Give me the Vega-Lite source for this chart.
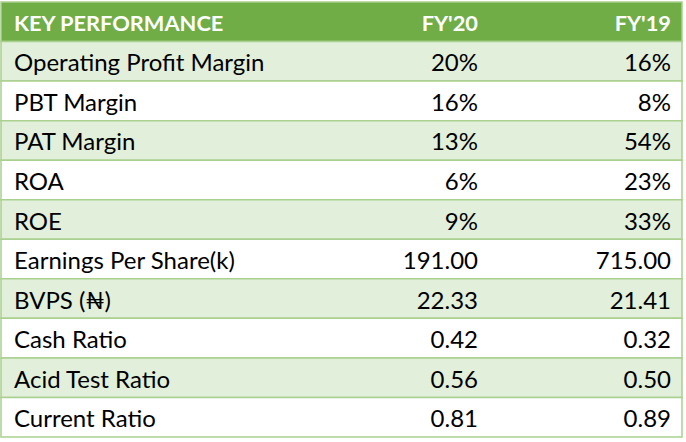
{
  "$schema": "https://vega.github.io/schema/vega-lite/v6.json",
  "width": 681,
  "height": 435,
  "autosize": "none",
  "padding": {"left": 1, "top": 2, "right": 4, "bottom": 5},
  "background": "white",
  "config": {"view": {"stroke": null}},
  "datasets": {
    "rows": [
      {"r": 0, "kind": "header"},
      {"r": 1, "kind": "shade"},
      {"r": 2, "kind": "plain"},
      {"r": 3, "kind": "shade"},
      {"r": 4, "kind": "plain"},
      {"r": 5, "kind": "shade"},
      {"r": 6, "kind": "plain"},
      {"r": 7, "kind": "shade"},
      {"r": 8, "kind": "plain"},
      {"r": 9, "kind": "shade"},
      {"r": 10, "kind": "plain"}
    ],
    "cells": [
      {"r": 0, "col": "label", "text": "KEY PERFORMANCE", "head": true},
      {"r": 0, "col": "FY20", "text": "FY'20", "head": true},
      {"r": 0, "col": "FY19", "text": "FY'19", "head": true},
      {"r": 1, "col": "label", "text": "Operating Profit Margin", "head": false},
      {"r": 1, "col": "FY20", "text": "20%", "head": false},
      {"r": 1, "col": "FY19", "text": "16%", "head": false},
      {"r": 2, "col": "label", "text": "PBT Margin", "head": false},
      {"r": 2, "col": "FY20", "text": "16%", "head": false},
      {"r": 2, "col": "FY19", "text": "8%", "head": false},
      {"r": 3, "col": "label", "text": "PAT Margin", "head": false},
      {"r": 3, "col": "FY20", "text": "13%", "head": false},
      {"r": 3, "col": "FY19", "text": "54%", "head": false},
      {"r": 4, "col": "label", "text": "ROA", "head": false},
      {"r": 4, "col": "FY20", "text": "6%", "head": false},
      {"r": 4, "col": "FY19", "text": "23%", "head": false},
      {"r": 5, "col": "label", "text": "ROE", "head": false},
      {"r": 5, "col": "FY20", "text": "9%", "head": false},
      {"r": 5, "col": "FY19", "text": "33%", "head": false},
      {"r": 6, "col": "label", "text": "Earnings Per Share(k)", "head": false},
      {"r": 6, "col": "FY20", "text": "191.00", "head": false},
      {"r": 6, "col": "FY19", "text": "715.00", "head": false},
      {"r": 7, "col": "label", "text": "BVPS (₦)", "head": false},
      {"r": 7, "col": "FY20", "text": "22.33", "head": false},
      {"r": 7, "col": "FY19", "text": "21.41", "head": false},
      {"r": 8, "col": "label", "text": "Cash Ratio", "head": false},
      {"r": 8, "col": "FY20", "text": "0.42", "head": false},
      {"r": 8, "col": "FY19", "text": "0.32", "head": false},
      {"r": 9, "col": "label", "text": "Acid Test Ratio", "head": false},
      {"r": 9, "col": "FY20", "text": "0.56", "head": false},
      {"r": 9, "col": "FY19", "text": "0.50", "head": false},
      {"r": 10, "col": "label", "text": "Current Ratio", "head": false},
      {"r": 10, "col": "FY20", "text": "0.81", "head": false},
      {"r": 10, "col": "FY19", "text": "0.89", "head": false}
    ]
  },
  "layer": [
    {
      "data": {"name": "rows"},
      "mark": {"type": "rect", "stroke": "#A9D08E", "strokeWidth": 1.5},
      "encoding": {
        "y": {"field": "r", "type": "ordinal", "axis": null,
              "scale": {"paddingInner": 0, "paddingOuter": 0}},
        "fill": {"field": "kind", "type": "nominal", "legend": null,
                 "scale": {"domain": ["header", "shade", "plain"], "range": ["#70AD47", "#E2EFDA", "#FFFFFF"]}}
      }
    },
    {
      "data": {"name": "cells"},
      "transform": [{"filter": "datum.col === 'label'"}],
      "layer": [
        {
          "transform": [{"filter": "datum.head"}],
          "mark": {"type": "text", "align": "left", "baseline": "middle", "font": "Lato", "fontSize": 21.8, "fontWeight": "bold", "color": "white", "dy": 2}
        },
        {
          "transform": [{"filter": "!datum.head"}],
          "mark": {"type": "text", "align": "left", "baseline": "middle", "font": "Lato", "fontSize": 24, "color": "black", "dy": 3}
        }
      ],
      "encoding": {
        "y": {"field": "r", "type": "ordinal"},
        "x": {"field": "col", "type": "nominal", "axis": null,
              "scale": {"type": "point", "domain": ["label"], "range": [13, 13], "padding": 0}},
        "text": {"field": "text"}
      }
    },
    {
      "data": {"name": "cells"},
      "transform": [{"filter": "datum.col !== 'label'"}],
      "layer": [
        {
          "transform": [{"filter": "datum.head"}],
          "mark": {"type": "text", "align": "right", "baseline": "middle", "font": "Lato", "fontSize": 21.8, "fontWeight": "bold", "color": "white", "dy": 2}
        },
        {
          "transform": [{"filter": "!datum.head"}],
          "mark": {"type": "text", "align": "right", "baseline": "middle", "font": "Lato", "fontSize": 24, "color": "black", "dy": 3}
        }
      ],
      "encoding": {
        "y": {"field": "r", "type": "ordinal"},
        "x": {"field": "col", "type": "nominal", "axis": null,
              "scale": {"type": "point", "domain": ["FY20", "FY19"], "range": [477, 670], "padding": 0}},
        "text": {"field": "text"}
      }
    }
  ],
  "resolve": {"scale": {"x": "independent"}}
}
